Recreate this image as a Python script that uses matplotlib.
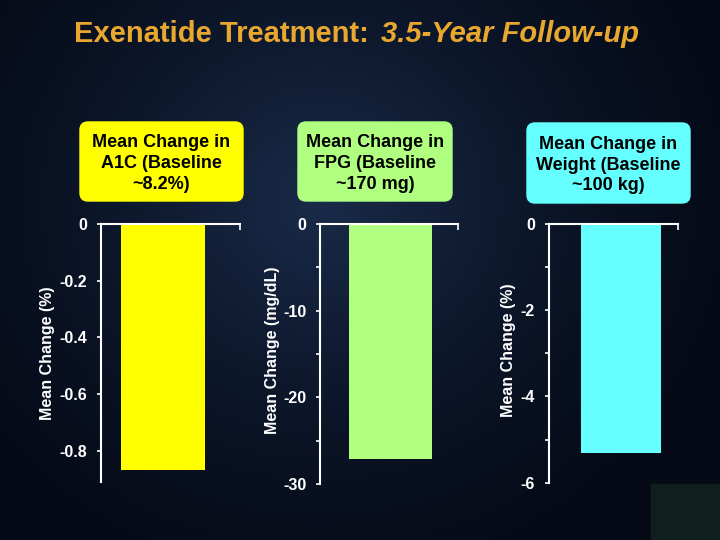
import numpy as np
from matplotlib import pyplot as plt
from matplotlib.patches import FancyBboxPatch, Rectangle

# data
titles = ["Mean Change in\nA1C (Baseline\n~8.2%)",
          "Mean Change in\nFPG (Baseline\n~170 mg)",
          "Mean Change in\nWeight (Baseline\n~100 kg)"]
ylabels = ["Mean Change (%)", "Mean Change (mg/dL)", "Mean Change (%)"]
values = [-0.87, -27.1, -5.3]
yticks = [[0, -0.2, -0.4, -0.6, -0.8], [0, -10, -20, -30], [0, -2, -4, -6]]
ytick_labels = [["0", "-0.2", "-0.4", "-0.6", "-0.8"],
                ["0", "-10", "-20", "-30"],
                ["0", "-2", "-4", "-6"]]
minor_ticks = [[], [-5, -15, -25], [-1, -3, -5]]
ymins = [-0.91, -30, -6]
colors = ["#FFFF00", "#B0FF80", "#66FFFF"]

FONT = ['Liberation Sans', 'DejaVu Sans']

fig = plt.figure(figsize=(7.2, 5.4), dpi=100)

# background
bg = fig.add_axes([0, 0, 1, 1])
yy, xx = np.mgrid[0:540, 0:720]
d = np.sqrt(((xx - 320) / 430.0) ** 2 + ((yy - 200) / 400.0) ** 2)
t = np.clip(1 - d, 0, 1) ** 1.4
c0 = np.array([0.02, 0.04, 0.09])
c1 = np.array([0.10, 0.17, 0.29])
img = c0 + t[..., None] * (c1 - c0)
bg.imshow(img, extent=[0, 720, 540, 0], aspect='auto')
bg.add_patch(Rectangle((651, 484), 69, 56, color="#0f1f1e"))
bg.set_xlim(0, 720)
bg.set_ylim(540, 0)
bg.axis('off')

# title
fig.text(369 / 720, 1 - 34 / 540, "Exenatide Treatment:", ha='right', va='center',
         color="#E8A830", fontsize=21, fontweight='bold', family=FONT)
fig.text(381 / 720, 1 - 34 / 540, "3.5-Year Follow-up", ha='left', va='center',
         color="#E8A830", fontsize=21, fontweight='bold', style='italic',
         family=FONT)

# header boxes
boxes = [(80, 122, 163, 79), (298, 122, 154, 79), (527, 123, 163, 80)]
for (bx, by, bw, bh), txt, col in zip(boxes, titles, colors):
    bg.add_patch(FancyBboxPatch((bx + 8, by + 8), bw - 16, bh - 16,
                                boxstyle="round,pad=8", color=col))
    bg.text(bx + bw / 2, by + bh / 2 + 2, txt, ha='center', va='center', fontsize=13,
            fontweight='bold', color='black', linespacing=1.3, family=FONT)

# panels
axes_pos = [[0.140, 0.108, 0.194, 0.477], [0.445, 0.104, 0.191, 0.481],
            [0.762, 0.106, 0.180, 0.480]]
bar_x = [0.445, 0.51, 0.558]
bar_w = [0.6, 0.61, 0.617]
ylab_x = [48 / 720, 272 / 720, 508 / 720]
ylab_y = [1 - 353 / 540, 1 - 350 / 540, 1 - 350 / 540]

for i in range(3):
    ax = fig.add_axes(axes_pos[i])
    ax.patch.set_alpha(0)
    ax.bar([bar_x[i]], [values[i]], width=bar_w[i], color=colors[i])
    ax.set_xlim(0, 1)
    ax.set_ylim(ymins[i], 0)
    for s in ['right', 'bottom']:
        ax.spines[s].set_visible(False)
    for s in ['top', 'left']:
        ax.spines[s].set_color('white')
        ax.spines[s].set_linewidth(1.5)
    ax.set_yticks(yticks[i])
    ax.set_yticklabels(ytick_labels[i])
    ax.set_yticks(minor_ticks[i], minor=True)
    ax.tick_params(axis='y', which='both', colors='white', length=3, width=1.2,
                   labelsize=11.5, pad=7)
    for lab in ax.get_yticklabels():
        lab.set_fontweight('bold')
        lab.set_family(FONT)
    ax.xaxis.tick_top()
    ax.set_xticks([1])
    ax.set_xticklabels([])
    ax.tick_params(axis='x', colors='white', direction='in', length=4, width=1.2)
    fig.text(ylab_x[i], ylab_y[i], ylabels[i],
             rotation=90, ha='center', va='center', color='white', fontsize=11.5,
             fontweight='bold', family=FONT)

fig.savefig('out.png', dpi=100)
